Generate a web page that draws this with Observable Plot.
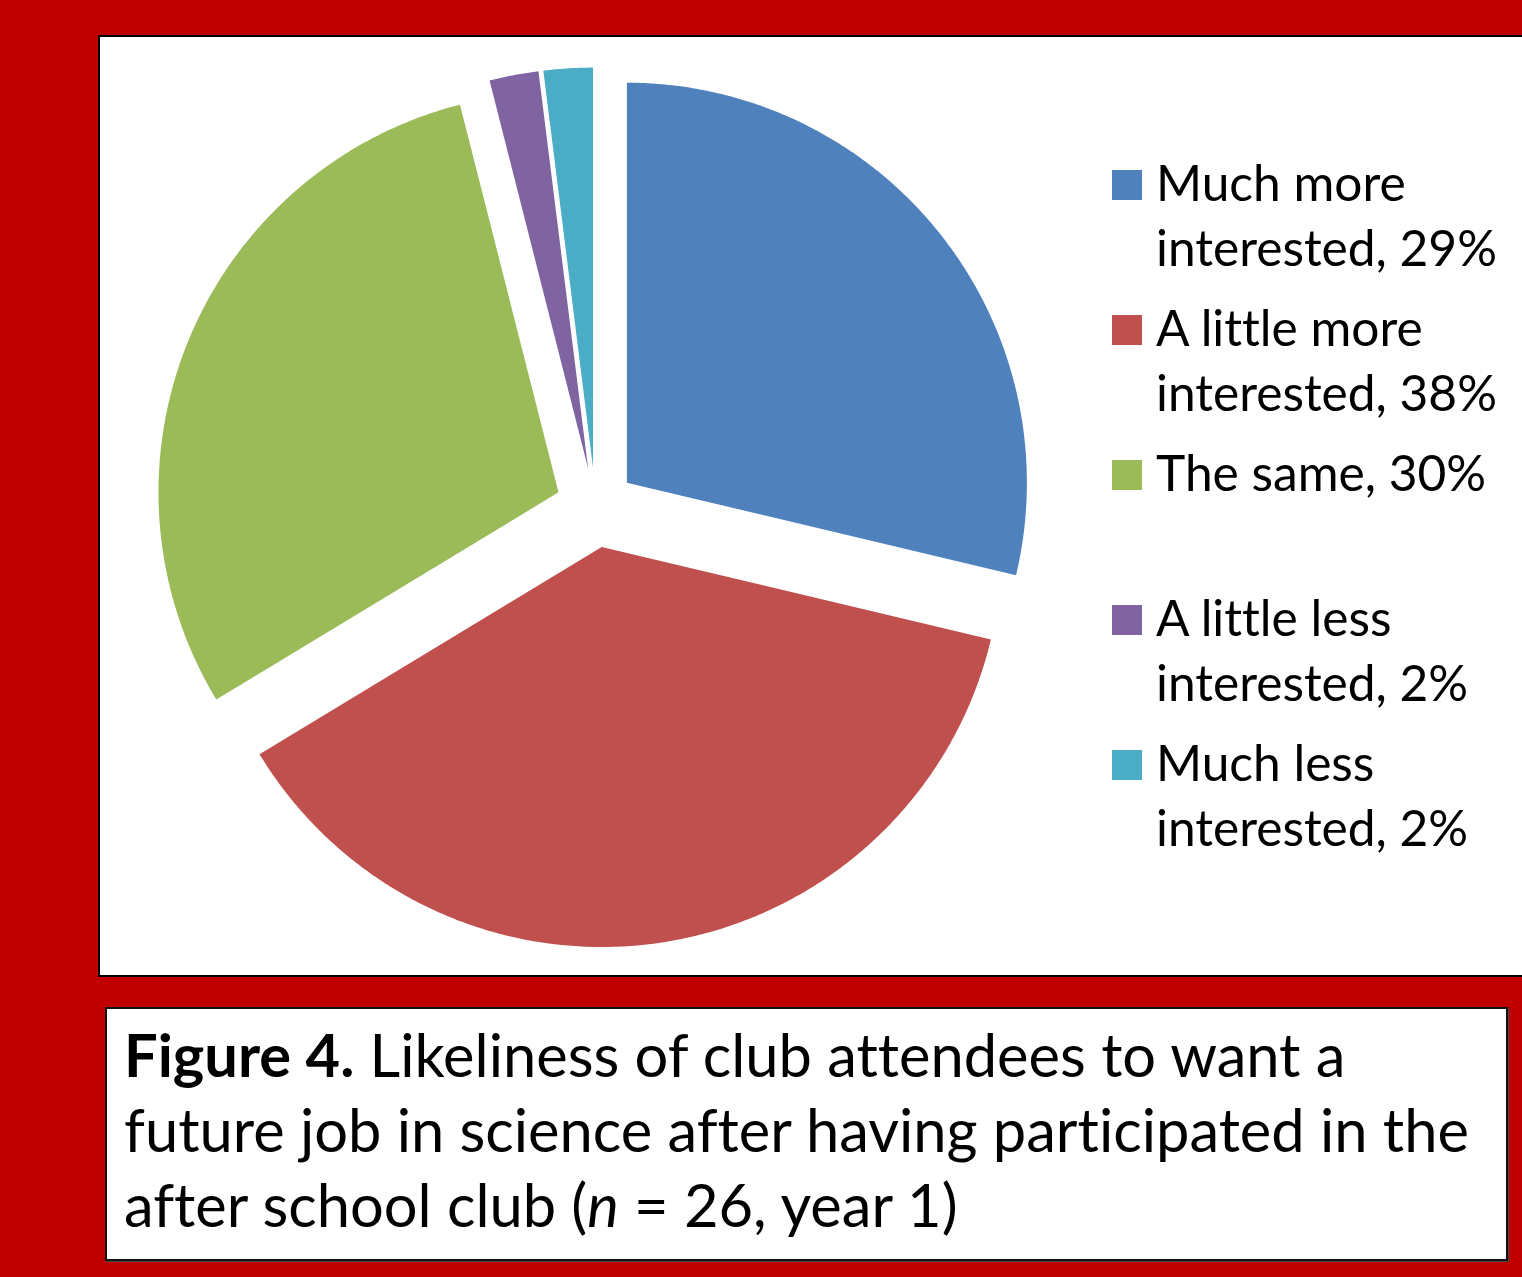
<!DOCTYPE html>
<html>
<head>
<meta charset="utf-8">
<script src="https://cdn.jsdelivr.net/npm/d3@7"></script>
<script src="https://cdn.jsdelivr.net/npm/@observablehq/plot@0.6"></script>
<style>
  html, body { margin: 0; padding: 0; background: #C00000; }
  #page { position: relative; width: 1522px; height: 1277px; overflow: hidden; background: #C00000; font-family: Lato, "Open Sans", sans-serif; }
  #panel { position: absolute; left: 98px; top: 35px; width: 1440px; height: 938px; background: #fff; border: 2px solid #000; }
  #chart { position: absolute; left: 100px; top: 37px; }
  #legend { position: absolute; left: 1100px; top: 150px; }
  #caption { position: absolute; left: 105px; top: 1007px; width: 1399px; height: 250px; background: #fff; border: 2px solid #111; box-shadow: 1px 1px 0 #444; }
  svg text { font-family: Lato, "Open Sans", sans-serif; fill: #000; font-variant-ligatures: none; font-feature-settings: "liga" 0, "clig" 0; }
</style>
</head>
<body>
<div id="page">
  <div id="panel"></div>
  <div id="chart"></div>
  <div id="legend"></div>
  <div id="caption"></div>
</div>
<script>
// Survey responses: change in interest in a future science job (n = 26, year 1)
const categories = [
  "Much more interested",
  "A little more interested",
  "The same",
  "A little less interested",
  "Much less interested"
];
const percents = [29, 38, 30, 2, 2];
const colors = ["#4F81BD", "#C0504D", "#9BBB59", "#8064A2", "#4BACC6"];

const captionLines = [
  [{text: "Figure 4.", weight: "bold"}, {text: " Likeliness of club attendees to want a"}],
  [{text: "future job in science after having participated in the"}],
  [{text: "after school club ("}, {text: "n", style: "italic"}, {text: " = 26, year 1)"}]
];

const slices = categories.map((category, i) => ({category, value: percents[i]}));

// Pie geometry in unit-radius coordinates; every slice is pulled out by 10% of the radius
const W = 1422, H = 938;          // SVG size
const cx = 495, cy = 470, R = 400; // centre and radius in pixels
const explode = 0.1;

const arcs = d3.pie().sort(null).value(d => d.value)(slices);
const outline = arcs.flatMap(a => {
  const mid = (a.startAngle + a.endAngle) / 2;
  const ox = explode * Math.sin(mid), oy = explode * Math.cos(mid);
  const n = Math.max(4, Math.ceil((a.endAngle - a.startAngle) / (Math.PI / 360)));
  const pts = [{category: a.data.category, x: ox, y: oy}];
  for (let i = 0; i <= n; ++i) {
    const t = a.startAngle + (a.endAngle - a.startAngle) * i / n;
    pts.push({category: a.data.category, x: ox + Math.sin(t), y: oy + Math.cos(t)});
  }
  return pts;
});

const chart = Plot.plot({
  width: W,
  height: H,
  margin: 0,
  style: {background: "transparent", overflow: "visible"},
  x: {domain: [-cx / R, (W - cx) / R], axis: null},
  y: {domain: [-(H - cy) / R, cy / R], axis: null},
  color: {domain: categories, range: colors},
  marks: [
    Plot.line(outline, {x: "x", y: "y", z: "category", fill: "category", stroke: "none", curve: "linear-closed"})
  ]
});
document.getElementById("chart").append(chart);

// Text sizing: fit to the width of a reference line
const ctx = document.createElement("canvas").getContext("2d");
function fitSize(text, target, weight = "normal") {
  ctx.font = `${weight} 100px Lato`;
  return 100 * target / ctx.measureText(text).width;
}

// Legend: swatch plus two-line label, one slot per category
const legendSize = fitSize("interested, 29%", 341);
const legend = d3.select("#legend").append("svg").attr("width", 422).attr("height", 720);
categories.forEach((c, i) => {
  const label = `${c}, ${percents[i]}%`;
  const lines = label.split(/ (?=interested)/);
  const top = 20 + 145 * i;
  legend.append("rect").attr("x", 12).attr("y", top).attr("width", 30).attr("height", 30).attr("fill", colors[i]);
  const t = legend.append("text").attr("font-size", legendSize);
  lines.forEach((ln, j) => t.append("tspan").attr("x", 56).attr("y", top + 31 + 65 * j).text(ln));
});

// Caption
const capSize = fitSize(captionLines[1][0].text, 1346);
const cap = d3.select("#caption").append("svg").attr("width", 1399).attr("height", 250);
captionLines.forEach((parts, j) => {
  const t = cap.append("text").attr("x", 17).attr("y", 68 + 75 * j).attr("font-size", capSize);
  parts.forEach(p => t.append("tspan")
    .attr("font-weight", p.weight || "normal")
    .attr("font-style", p.style || "normal")
    .text(p.text));
});
</script>
</body>
</html>
